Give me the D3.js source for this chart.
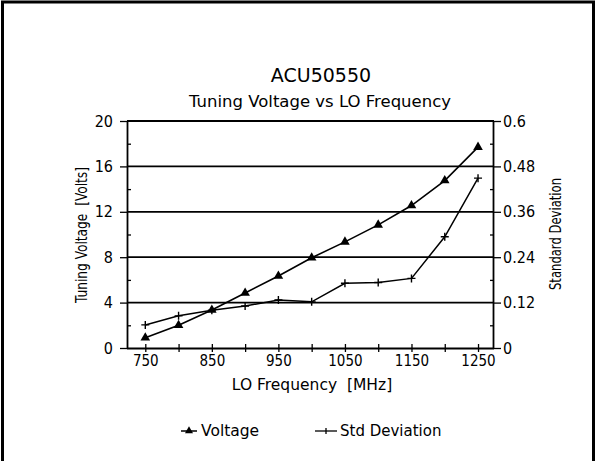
<!DOCTYPE html>
<html>
<head>
<meta charset="utf-8">
<script src="https://cdn.jsdelivr.net/npm/d3@7"></script>
<style>
  body { margin: 0; background: #fff; }
  text { font-family: "DejaVu Sans", "Liberation Sans", sans-serif; fill: #000; }
  .narrow { font-family: "Liberation Sans Narrow", "DejaVu Sans Condensed", "DejaVu Sans", sans-serif; font-stretch: condensed; }
</style>
</head>
<body>
<div id="chart"></div>
<script>
// LO frequency (MHz)
var freqs = [750, 800, 850, 900, 950, 1000, 1050, 1100, 1150, 1200, 1250];
// tuning voltage (V)
var voltage = [0.9, 2.0, 3.35, 4.85, 6.35, 7.95, 9.35, 10.85, 12.55, 14.75, 17.7];
// standard deviation
var stdDev = [0.061, 0.085, 0.100, 0.111, 0.127, 0.122, 0.171, 0.173, 0.184, 0.294, 0.449];

var xTicks = [750, 850, 950, 1050, 1150, 1250];
var yTicks = [0, 4, 8, 12, 16, 20];
var y2Ticks = [0, 0.12, 0.24, 0.36, 0.48, 0.6];

var W = 600, H = 461;
var margin = { top: 121, right: 106, bottom: 113, left: 127 };
var width = W - margin.left - margin.right;
var height = H - margin.top - margin.bottom;

var svg = d3.select("#chart").append("svg")
    .attr("width", W)
    .attr("height", H);

// outer frame (bottom edge cut off like the scan)
svg.append("path")
    .attr("d", "M2.5,470 V2 H593.5 V470")
    .attr("fill", "none")
    .attr("stroke", "#000")
    .attr("stroke-width", 3);

var g = svg.append("g")
    .attr("transform", "translate(" + margin.left + "," + margin.top + ")");

var x = d3.scaleLinear().domain([722.5, 1274]).range([0, width]);
var y = d3.scaleLinear().domain([0, 20]).range([height, 0]);
var y2 = d3.scaleLinear().domain([0, 0.6]).range([height, 0]);

// gridlines
g.selectAll(".grid")
    .data(yTicks.filter(function (d) { return d > 0; }))
    .enter().append("line")
    .attr("x1", 0)
    .attr("x2", width)
    .attr("y1", function (d) { return y(d); })
    .attr("y2", function (d) { return y(d); })
    .attr("stroke", "#000")
    .attr("stroke-width", 1.8);

// left axis
var left = g.append("g")
    .call(d3.axisLeft(y).tickValues(yTicks).tickSize(7).tickPadding(7).tickFormat(d3.format("d")));
// left minor ticks inward
g.append("g")
    .call(d3.axisRight(y).tickValues([2, 6, 10, 14, 18]).tickSize(4).tickFormat(""))
    .select(".domain").remove();

// right axis
var right = g.append("g")
    .attr("transform", "translate(" + width + ",0)")
    .call(d3.axisRight(y2).tickValues(y2Ticks).tickSize(7).tickPadding(2).tickFormat(function (d) { return d === 0 ? "0" : d3.format("")(d); }));
g.append("g")
    .attr("transform", "translate(" + width + ",0)")
    .call(d3.axisLeft(y2).tickValues([0.06, 0.18, 0.3, 0.42, 0.54]).tickSize(4).tickFormat(""))
    .select(".domain").remove();

// bottom axis
var bottom = g.append("g")
    .attr("transform", "translate(0," + height + ")")
    .call(d3.axisBottom(x).tickValues(xTicks).tickSize(4).tickPadding(3).tickFormat(d3.format("d")));
g.append("g")
    .attr("transform", "translate(0," + height + ")")
    .call(d3.axisBottom(x).tickValues(freqs).tickSize(-4).tickFormat(""))
    .select(".domain").remove();
g.append("g")
    .attr("transform", "translate(0," + height + ")")
    .call(d3.axisBottom(x).tickValues([800, 900, 1000, 1100, 1200]).tickSize(4).tickFormat(""))
    .select(".domain").remove();

g.selectAll(".domain").attr("stroke-width", 1.8);
g.selectAll(".tick line").attr("stroke-width", 1.3);
g.selectAll(".tick text")
    .attr("class", "narrow")
    .style("font-size", "16px")
    .style("font-family", null);
bottom.selectAll(".tick text").style("font-size", "15px");
bottom.select(".domain").attr("d", "M0,0.5H" + width);
left.select(".domain").attr("d", "M0.5," + height + "V0");
right.select(".domain").attr("d", "M-0.5," + height + "V0");

// lines
var lineV = d3.line()
    .x(function (d, i) { return x(freqs[i]); })
    .y(function (d) { return y(d); });
var lineS = d3.line()
    .x(function (d, i) { return x(freqs[i]); })
    .y(function (d) { return y2(d); });

g.append("path")
    .datum(stdDev)
    .attr("d", lineS)
    .attr("fill", "none")
    .attr("stroke", "#000")
    .attr("stroke-width", 1.5);

g.append("path")
    .datum(voltage)
    .attr("d", lineV)
    .attr("fill", "none")
    .attr("stroke", "#000")
    .attr("stroke-width", 1.6);

var tri = d3.symbol().type(d3.symbolTriangle).size(40);
g.selectAll(".vpt")
    .data(voltage)
    .enter().append("path")
    .attr("d", tri)
    .attr("transform", function (d, i) { return "translate(" + x(freqs[i]) + "," + y(d) + ")"; })
    .attr("fill", "#000");

g.selectAll(".spt")
    .data(stdDev)
    .enter().append("path")
    .attr("d", "M-4,0H4M0,-4V4")
    .attr("transform", function (d, i) { return "translate(" + x(freqs[i]) + "," + y2(d) + ")"; })
    .attr("stroke", "#000")
    .attr("stroke-width", 1.4);

// titles
svg.append("text")
    .attr("x", 321).attr("y", 82)
    .attr("text-anchor", "middle")
    .style("font-size", "19px")
    .text("ACU50550");
svg.append("text")
    .attr("x", 320).attr("y", 107)
    .attr("text-anchor", "middle")
    .style("font-size", "16.5px")
    .text("Tuning Voltage vs LO Frequency");

svg.append("text")
    .attr("x", 312).attr("y", 390)
    .attr("text-anchor", "middle")
    .style("font-size", "15.5px")
    .attr("xml:space", "preserve")
    .text("LO Frequency  [MHz]");

svg.append("text")
    .attr("class", "narrow")
    .attr("transform", "translate(87,235) rotate(-90)")
    .attr("text-anchor", "middle")
    .attr("textLength", 136)
    .attr("lengthAdjust", "spacingAndGlyphs")
    .style("font-size", "16px")
    .attr("xml:space", "preserve")
    .text("Tuning Voltage  [Volts]");

svg.append("text")
    .attr("class", "narrow")
    .attr("transform", "translate(561,234) rotate(-90)")
    .attr("text-anchor", "middle")
    .attr("textLength", 112)
    .attr("lengthAdjust", "spacingAndGlyphs")
    .style("font-size", "16px")
    .text("Standard Deviation");

// legend
var legend = svg.append("g");
legend.append("line")
    .attr("x1", 181).attr("x2", 197).attr("y1", 431).attr("y2", 431)
    .attr("stroke", "#000").attr("stroke-width", 1.5);
legend.append("path")
    .attr("d", d3.symbol().type(d3.symbolTriangle).size(28))
    .attr("transform", "translate(189,431)");
legend.append("text")
    .attr("x", 201).attr("y", 436)
    .style("font-size", "15.5px")
    .text("Voltage");
legend.append("line")
    .attr("x1", 315).attr("x2", 337).attr("y1", 431).attr("y2", 431)
    .attr("stroke", "#000").attr("stroke-width", 1.3);
legend.append("line")
    .attr("x1", 326).attr("x2", 326).attr("y1", 428).attr("y2", 434)
    .attr("stroke", "#000").attr("stroke-width", 1.3);
legend.append("text")
    .attr("x", 340).attr("y", 436)
    .style("font-size", "15px")
    .text("Std Deviation");
</script>
</body>
</html>
